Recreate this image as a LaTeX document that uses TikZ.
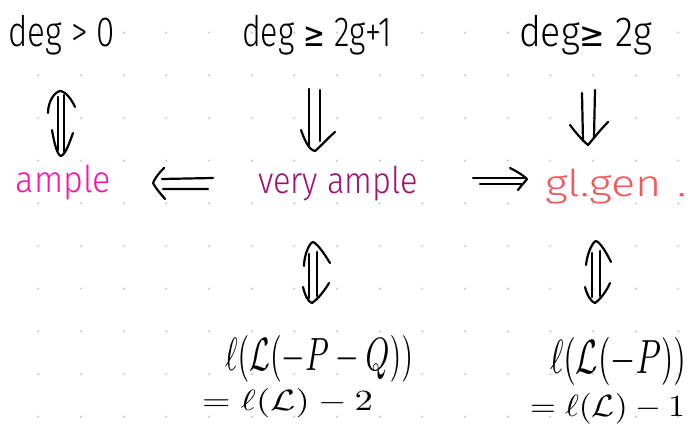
\documentclass[tikz,border=0pt]{standalone}
\usepackage{fontspec}
\usepackage{graphicx}
\IfFontExistsTF{Fira Sans Light}{\setmainfont{Fira Sans Light}}{\setmainfont{DejaVu Sans}}
\newfontfamily\symf{DejaVu Sans}
\definecolor{amplec}{RGB}{250,20,160}
\definecolor{vampc}{RGB}{160,18,108}
\definecolor{glgc}{RGB}{244,88,90}
\definecolor{dotc}{RGB}{208,208,208}
\newcommand{\fitw}[2]{\resizebox{#1}{\height}{#2}}
\begin{document}
\begin{tikzpicture}[x=1pt,y=-1pt,
  ink/.style={line width=2.2pt,line cap=round,line join=round},
  lab/.style={anchor=base west,inner sep=0pt,outer sep=0pt},
  big/.style={font=\fontsize{42}{48}\selectfont},
  mid/.style={font=\fontsize{37}{44}\selectfont}]
\path[use as bounding box, clip] (0,0) rectangle (689,425);
\fill[white] (0,0) rectangle (689,425);
\foreach \i in {0,...,15}{\foreach \j in {0,...,9}{
  \fill[dotc] ({38.33+42.67*\i},{32.67+42.67*\j}) circle (1.3pt);}}

% texts
\node[lab,big] (d0) at (8,47) {\fitw{107pt}{deg > 0}};
\node[lab,big] (d1) at (242,47) {\fitw{150pt}{deg {\symf\fontsize{34}{34}\selectfont ≥} 2g+1}};
\node[lab,big] (d2) at (519,47) {\fitw{133pt}{deg{\symf\fontsize{34}{34}\selectfont ≥} 2g}};
\node[lab,mid,text=amplec] (am) at (16,193) {\fitw{95pt}{ample}};
\node[lab,mid,text=vampc] (va) at (258,194) {\fitw{160pt}{very ample}};
\node[lab,mid,text=glgc] (gg) at (545,197) {\fitw{142pt}{gl.gen\hspace{0.35em}.}};
\node[lab] (r1) at (225,370) {\resizebox{188pt}{35pt}{$\ell(\mathcal{L}(-P-Q))$}};
\node[lab] (r2) at (202,410) {\resizebox{171pt}{22pt}{$=\ell(\mathcal{L})-2$}};
\node[lab] (s1) at (550,373) {\resizebox{136pt}{36pt}{$\ell(\mathcal{L}(-P))$}};
\node[lab] (s2) at (530,416) {\resizebox{155pt}{23pt}{$=\ell(\mathcal{L})-1$}};

% deg>0 <=> ample
\coordinate (a1t) at (61,91); \coordinate (a1b) at (61,156);
\draw[ink] (58,97) -- (58,150) (64,95) -- (64,152);
\draw[ink] (48,113) .. controls (48,101) and (55,91) .. (a1t) .. controls (66,92) and (72,100) .. (75,107);
\draw[ink] (52,130) .. controls (54,142) and (57,155) .. (a1b) .. controls (66,154) and (70,141) .. (73,133);

% deg>=2g+1 => very ample
\coordinate (a2t) at (315,151);
\draw[ink] (309,89) -- (309,146) (320,90) -- (320,141);
\draw[ink] (301,130) .. controls (305,141) and (309,150) .. (a2t) .. controls (321,146) and (329,137) .. (335,132);

% deg>=2g => gl.gen
\coordinate (a3t) at (588,145);
\draw[ink] (582,93) -- (583,141) (595,90) -- (594,138);
\draw[ink] (570,125) .. controls (576,133) and (582,140) .. (a3t) .. controls (594,138) and (601,129) .. (608,122);

% very ample => ample
\coordinate (a4t) at (153,183);
\draw[ink] (162,179) -- (213,178) (163,189) -- (208,189);
\draw[ink] (164,168) .. controls (159,173) and (155,178) .. (a4t) .. controls (156,189) and (161,194) .. (165,199);

% very ample => gl.gen
\coordinate (a5t) at (527,179);
\draw[ink] (473,178) -- (525,178) (480,184) -- (522,184);
\draw[ink] (510,168) .. controls (516,171) and (523,175) .. (a5t) .. controls (524,183) and (520,187) .. (518,190);

% very ample <=> l(L(-P-Q))
\coordinate (a6t) at (313,242); \coordinate (a6b) at (312,303);
\draw[ink] (309,254) -- (309,298) (317,252) -- (317,296);
\draw[ink] (304,266) .. controls (304,256) and (309,243) .. (a6t) .. controls (318,244) and (325,255) .. (330,263);
\draw[ink] (303,287) .. controls (305,295) and (308,302) .. (a6b) .. controls (318,299) and (325,290) .. (329,283);

% gl.gen <=> l(L(-P))
\coordinate (a7t) at (596,241); \coordinate (a7b) at (595,303);
\draw[ink] (592,253) -- (592,297) (600,251) -- (600,296);
\draw[ink] (586,265) .. controls (587,255) and (592,242) .. (a7t) .. controls (601,243) and (607,254) .. (611,262);
\draw[ink] (585,287) .. controls (587,295) and (591,302) .. (a7b) .. controls (601,299) and (607,290) .. (610,283);
\end{tikzpicture}
\end{document}
